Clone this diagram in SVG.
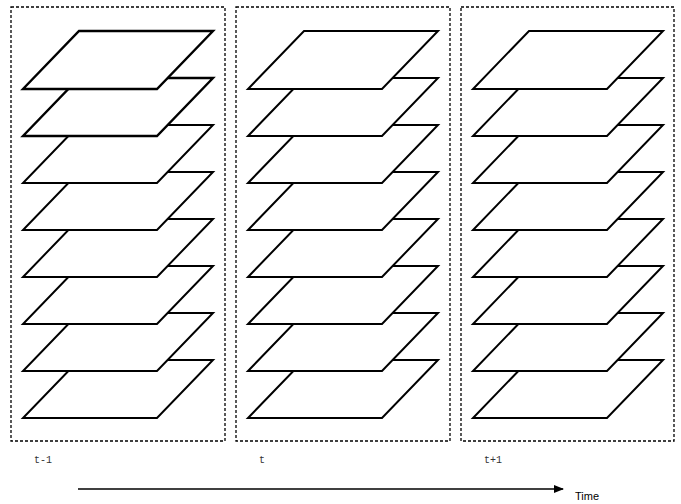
<svg xmlns="http://www.w3.org/2000/svg" xmlns:xlink="http://www.w3.org/1999/xlink" width="681" height="504" viewBox="0 0 681 504">
<style>
.frame{fill:none;stroke:#000;stroke-width:1.3;stroke-dasharray:3,2}
.plane{fill:#fff;stroke:#000;stroke-width:2;stroke-linejoin:miter}
.thick{stroke-width:2.4}
.lbl{font-family:"Liberation Mono",monospace;font-size:10px;fill:#333}
.time{font-family:"Liberation Sans",Arial,sans-serif;font-size:11px;fill:#000}
</style>
<defs>
<marker id="ah" markerWidth="10" markerHeight="8" refX="9" refY="4" orient="auto" markerUnits="userSpaceOnUse">
<path d="M0,0 L10,4 L0,8 Z" fill="#000"/>
</marker>
<path id="p" d="M79,0 L213,0 L157,58 L23,58 Z"/>
</defs>
<rect width="681" height="504" fill="#fff"/>
<g id="panel-t-1">
<rect class="frame" x="11" y="7" width="214" height="434"/>
<use class="plane" xlink:href="#p" y="360"/>
<use class="plane" xlink:href="#p" y="313"/>
<use class="plane" xlink:href="#p" y="266"/>
<use class="plane" xlink:href="#p" y="219"/>
<use class="plane" xlink:href="#p" y="172"/>
<use class="plane" xlink:href="#p" y="125"/>
<use class="plane thick" xlink:href="#p" y="78"/>
<use class="plane thick" xlink:href="#p" y="31"/>
<text class="lbl" x="34" y="463">t-1</text>
</g>
<g id="panel-t">
<rect class="frame" x="236" y="7" width="214" height="434"/>
<g transform="translate(225,0)">
<use class="plane" xlink:href="#p" y="360"/>
<use class="plane" xlink:href="#p" y="313"/>
<use class="plane" xlink:href="#p" y="266"/>
<use class="plane" xlink:href="#p" y="219"/>
<use class="plane" xlink:href="#p" y="172"/>
<use class="plane" xlink:href="#p" y="125"/>
<use class="plane" xlink:href="#p" y="78"/>
<use class="plane" xlink:href="#p" y="31"/>
</g>
<text class="lbl" x="259" y="463">t</text>
</g>
<g id="panel-t1">
<rect class="frame" x="461" y="7" width="213" height="434"/>
<g transform="translate(450,0)">
<use class="plane" xlink:href="#p" y="360"/>
<use class="plane" xlink:href="#p" y="313"/>
<use class="plane" xlink:href="#p" y="266"/>
<use class="plane" xlink:href="#p" y="219"/>
<use class="plane" xlink:href="#p" y="172"/>
<use class="plane" xlink:href="#p" y="125"/>
<use class="plane" xlink:href="#p" y="78"/>
<use class="plane" xlink:href="#p" y="31"/>
</g>
<text class="lbl" x="484" y="463">t+1</text>
</g>
<g id="connectors">
<line x1="78" y1="489" x2="563" y2="489" stroke="#000" stroke-width="1.5" marker-end="url(#ah)"/>
</g>
<text class="time" x="575" y="500">Time</text>
</svg>
